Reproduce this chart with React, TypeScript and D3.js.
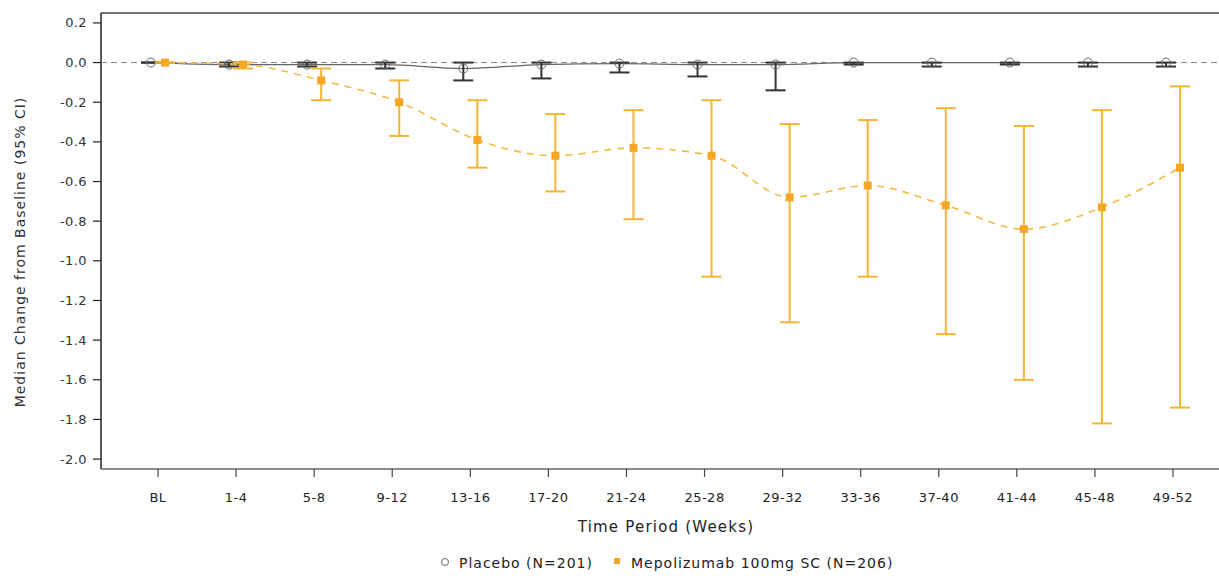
import React from "react";
import * as d3 from "d3";

const categories = ["BL", "1-4", "5-8", "9-12", "13-16", "17-20", "21-24", "25-28", "29-32", "33-36", "37-40", "41-44", "45-48", "49-52"];
const placeboMedian = [0, -0.01, -0.01, -0.01, -0.03, -0.01, -0.005, -0.01, -0.01, 0, 0, 0, 0, 0];
const placeboLower = [0, -0.02, -0.02, -0.03, -0.09, -0.08, -0.05, -0.07, -0.14, -0.01, -0.02, -0.01, -0.02, -0.02];
const placeboUpper = [0, 0, 0, 0, 0, 0, 0, 0, 0, 0, 0, 0, 0, 0];
const mepoMedian = [0, -0.01, -0.09, -0.2, -0.39, -0.47, -0.43, -0.47, -0.68, -0.62, -0.72, -0.84, -0.73, -0.53];
const mepoLower = [0, -0.03, -0.19, -0.37, -0.53, -0.65, -0.79, -1.08, -1.31, -1.08, -1.37, -1.6, -1.82, -1.74];
const mepoUpper = [0, 0, -0.03, -0.09, -0.19, -0.26, -0.24, -0.19, -0.31, -0.29, -0.23, -0.32, -0.24, -0.12];
const yTicks = [0.2, 0, -0.2, -0.4, -0.6, -0.8, -1.0, -1.2, -1.4, -1.6, -1.8, -2.0];

const W = 1219;
const H = 576;
const left = 101;
const top = 13;
const bottom = 469;
const right = 1230;

export default function App() {
  const x = d3.scaleLinear().domain([0, categories.length - 1]).range([158, 1173]);
  const y = d3.scaleLinear().domain([-2.05, 0.25]).range([bottom, top]);
  const off = 7;
  const font = "'DejaVu Sans', Verdana, sans-serif";
  const orange = "#F5A623";
  const orangeBar = "#F4B533";

  const placeboLine = d3
    .line<number>()
    .x((_, i) => x(i) - off)
    .y((d) => y(d))
    .curve(d3.curveMonotoneX)(placeboMedian) as string;
  const mepoLine = d3
    .line<number>()
    .x((_, i) => x(i) + off)
    .y((d) => y(d))
    .curve(d3.curveMonotoneX)(mepoMedian) as string;

  const cap = 10;

  return (
    <svg width={W} height={H} style={{ position: "absolute", left: 0, top: 0, background: "#fff" }}>
      {/* frame */}
      <line x1={left} x2={right} y1={top} y2={top} stroke="#444" strokeWidth={1.5} />
      <line x1={left} x2={left} y1={top} y2={bottom} stroke="#222" strokeWidth={1.5} />
      <line x1={left} x2={right} y1={bottom} y2={bottom} stroke="#666" strokeWidth={1.5} />
      {/* reference line */}
      <line x1={left} x2={W} y1={y(0)} y2={y(0)} stroke="#888" strokeWidth={1} strokeDasharray="6,4" />
      {/* y ticks */}
      {yTicks.map((t) => (
        <g key={t}>
          <line x1={left - 8} x2={left} y1={y(t)} y2={y(t)} stroke="#222" strokeWidth={1.2} />
          <text x={left - 14} y={y(t)} dy="0.35em" textAnchor="end" fontFamily={font} fontSize={13} letterSpacing={0.4} fill="#333">
            {t.toFixed(1)}
          </text>
        </g>
      ))}
      {/* x ticks */}
      {categories.map((c, i) => (
        <g key={c}>
          <line x1={x(i)} x2={x(i)} y1={bottom} y2={bottom + 8} stroke="#444" strokeWidth={1.2} />
          <text x={x(i)} y={497} dy="0.35em" textAnchor="middle" fontFamily={font} fontSize={13} letterSpacing={0.5} fill="#222">
            {c}
          </text>
        </g>
      ))}
      <text x={666} y={527} dy="0.35em" textAnchor="middle" fontFamily={font} fontSize={15} letterSpacing={1.2} fill="#222">
        Time Period (Weeks)
      </text>
      <text
        transform={`translate(20,252) rotate(-90)`}
        textAnchor="middle"
        dy="0.35em"
        fontFamily={font}
        fontSize={14}
        letterSpacing={1}
        fill="#333"
      >
        Median Change from Baseline (95% CI)
      </text>
      {/* placebo */}
      <path d={placeboLine} fill="none" stroke="#666" strokeWidth={1.2} />
      {categories.map((c, i) => (
        <g key={"p" + c} stroke="#333" strokeWidth={2}>
          <line x1={x(i) - off} x2={x(i) - off} y1={y(placeboLower[i])} y2={y(placeboUpper[i])} />
          <line x1={x(i) - off - cap} x2={x(i) - off + cap} y1={y(placeboLower[i])} y2={y(placeboLower[i])} />
          <line x1={x(i) - off - cap} x2={x(i) - off + cap} y1={y(placeboUpper[i])} y2={y(placeboUpper[i])} />
        </g>
      ))}
      {categories.map((c, i) => (
        <circle key={"pc" + c} cx={x(i) - off} cy={y(placeboMedian[i])} r={4.5} fill="none" stroke="#666" strokeWidth={1} />
      ))}
      {/* mepolizumab */}
      <path d={mepoLine} fill="none" stroke="#F5B942" strokeWidth={1.6} strokeDasharray="7,6" />
      {categories.map((c, i) => (
        <g key={"m" + c} stroke={orangeBar} strokeWidth={2}>
          <line x1={x(i) + off} x2={x(i) + off} y1={y(mepoLower[i])} y2={y(mepoUpper[i])} />
          <line x1={x(i) + off - cap} x2={x(i) + off + cap} y1={y(mepoLower[i])} y2={y(mepoLower[i])} />
          <line x1={x(i) + off - cap} x2={x(i) + off + cap} y1={y(mepoUpper[i])} y2={y(mepoUpper[i])} />
        </g>
      ))}
      {categories.map((c, i) => (
        <rect key={"ms" + c} x={x(i) + off - 4} y={y(mepoMedian[i]) - 4} width={8} height={8} fill={orange} />
      ))}
      {/* legend */}
      <circle cx={445} cy={562} r={3.5} fill="none" stroke="#666" strokeWidth={1} />
      <text x={459} y={563} dy="0.35em" fontFamily={font} fontSize={14} letterSpacing={1} fill="#222">
        Placebo (N=201)
      </text>
      <rect x={614} y={558} width={6} height={6} fill={orange} />
      <text x={631} y={563} dy="0.35em" fontFamily={font} fontSize={14} letterSpacing={1} fill="#222">
        Mepolizumab 100mg SC (N=206)
      </text>
    </svg>
  );
}
